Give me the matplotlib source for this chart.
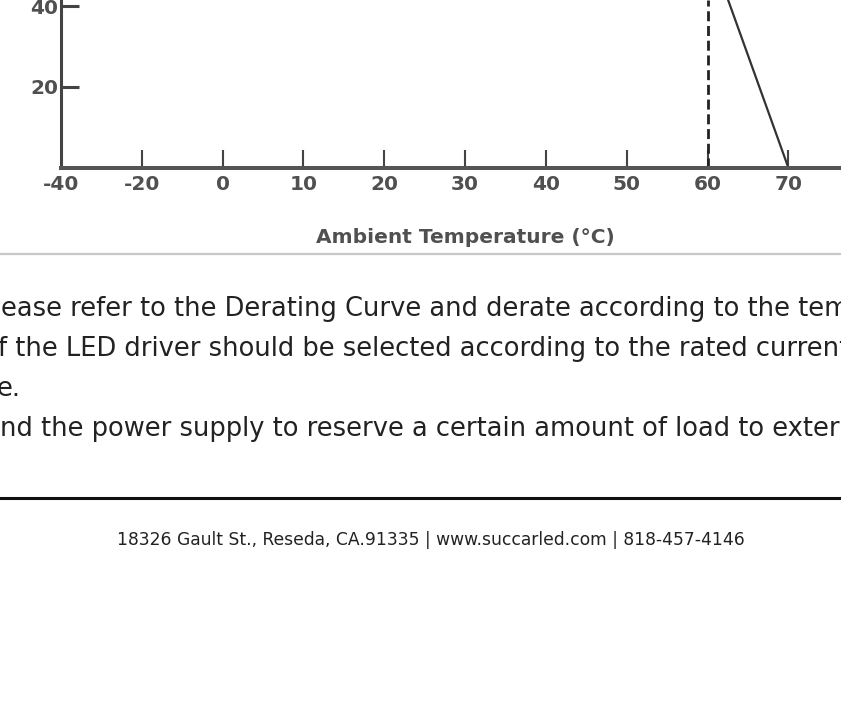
import numpy as np
import matplotlib
matplotlib.use("Agg")
import matplotlib.pyplot as plt
from matplotlib.lines import Line2D

# Derating curve data
tick_temps = [-40, -20, 0, 10, 20, 30, 40, 50, 60, 70]
tick_labels = ['-40', '-20', '0', '10', '20', '30', '40', '50', '60', '70']
curve_temp = [-40, 52, 70]
curve_load = [100, 100, 0]
load_ticks = [20, 40]
dash_temp = 60

body_lines = [
    "ease refer to the Derating Curve and derate according to the temperature.",
    "f the LED driver should be selected according to the rated current",
    "e.",
    "nd the power supply to reserve a certain amount of load to external",
]
footer = "18326 Gault St., Reseda, CA.91335 | www.succarled.com | 818-457-4146"

# uneven temperature axis (-40..0 in steps of 20, then steps of 10)
scale_t = tick_temps + [80]
scale_i = list(range(len(scale_t)))


def fwd(t):
    return np.interp(t, scale_t, scale_i)


def inv(i):
    return np.interp(i, scale_i, scale_t)


W, H = 841, 701
fig = plt.figure(figsize=(W / 100, H / 100), dpi=100)

ax = fig.add_axes([61 / W, 1 - 168 / H, (W - 61) / W, 168 / H])
ax.set_xscale('function', functions=(fwd, inv))
ax.set_xlim(-40, 76.5)
ax.set_ylim(0, 168 / 4.05)

ax.plot(curve_temp, curve_load, color='#333333', lw=1.6, solid_capstyle='butt')
plt.rcParams['lines.scale_dashes'] = False
ax.axvline(dash_temp, color='#222222', lw=2.0, linestyle=(0, (7.2, 3.4)))

for s in ['top', 'right']:
    ax.spines[s].set_visible(False)
ax.spines['left'].set_linewidth(2.2)
ax.spines['bottom'].set_linewidth(2.9)
ax.spines['left'].set_color('#444444')
ax.spines['bottom'].set_color('#555555')

ax.set_xticks(tick_temps)
ax.set_xticklabels(tick_labels)
ax.set_yticks(load_ticks)
ax.minorticks_off()
lab_font = dict(family='DejaVu Sans', weight='bold', size=14.5)
ax.tick_params(axis='x', direction='in', length=13, width=1.5, color='#444444',
               pad=5, labelcolor='#505050')
ax.tick_params(axis='y', direction='in', length=13, width=2.2, color='#444444',
               pad=2, labelcolor='#505050')
for lab in ax.get_xticklabels() + ax.get_yticklabels():
    lab.set_fontproperties(lab_font)
ax.xaxis.get_major_ticks()[0].tick1line.set_visible(False)

fig.text(465 / W, 1 - 238 / H, "Ambient Temperature (°C)", ha='center', va='center',
         color='#505050', **lab_font)

# separator lines
fig.add_artist(Line2D([0, 1], [1 - 254 / H] * 2, color='#c8c8c8', lw=1.6))
fig.add_artist(Line2D([0, 1], [1 - 498 / H] * 2, color='#111111', lw=2.2))

baselines = [316, 356, 396, 436]
x_starts = [1, -2, -3, 0]
for txt, yb, xs in zip(body_lines, baselines, x_starts):
    fig.text(xs / W, 1 - yb / H, txt, ha='left', va='baseline', fontsize=18.5,
             family='DejaVu Sans', color='#222222')

fig.text(430.5 / W, 1 - 545 / H, footer, ha='center', va='baseline', fontsize=12.35,
         family='DejaVu Sans', color='#222222')

fig.savefig('out.png', dpi=100)
